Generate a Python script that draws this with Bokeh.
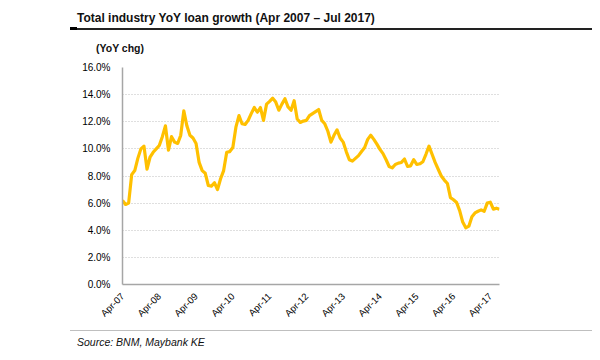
from math import pi
from bokeh.plotting import figure
from bokeh.models import Range1d, FixedTicker, PrintfTickFormatter, ColumnDataSource, Div
from bokeh.layouts import column
from bokeh.embed import file_html
from bokeh.resources import INLINE

# Monthly YoY loan growth (%), Apr 2007 .. Jul 2017 (124 months)
growth = [
    6.2, 5.9, 6.0, 8.1, 8.4, 9.3, 10.0, 10.2, 8.5, 9.4, 9.75, 10.0,      # Apr07-Mar08
    10.25, 10.9, 11.7, 9.9, 10.9, 10.5, 10.4, 11.0, 12.8, 11.7, 11.0, 10.8,  # Apr08-Mar09
    10.4, 9.0, 8.4, 8.2, 7.3, 7.25, 7.5, 7.0, 7.8, 8.4, 9.75, 9.8,        # Apr09-Mar10
    10.1, 11.6, 12.45, 11.85, 11.8, 12.1, 12.6, 13.05, 12.7, 13.05, 12.1, 13.3,  # Apr10-Mar11
    13.5, 13.74, 13.45, 12.85, 13.3, 13.7, 13.1, 12.85, 13.55, 12.2, 11.95, 12.05,  # Apr11-Mar12
    12.1, 12.45, 12.6, 12.75, 12.9, 12.1, 11.85, 11.3, 10.5, 11.0, 11.4, 10.8,  # Apr12-Mar13
    10.5, 9.8, 9.2, 9.1, 9.3, 9.5, 9.8, 10.1, 10.7, 11.0, 10.7, 10.35,     # Apr13-Mar14
    9.96, 9.65, 9.2, 8.7, 8.6, 8.85, 8.95, 9.0, 9.25, 8.7, 8.75, 9.2,      # Apr14-Mar15
    8.85, 8.9, 9.05, 9.6, 10.2, 9.6, 9.0, 8.5, 8.0, 7.7, 7.45, 6.4,        # Apr15-Mar16
    6.25, 6.05, 5.45, 4.6, 4.18, 4.3, 5.0, 5.28, 5.4, 5.5, 5.4, 6.0,       # Apr16-Mar17
    6.07, 5.55, 5.63, 5.55,                                                # Apr17-Jul17
]
tick_labels = ["Apr-07", "Apr-08", "Apr-09", "Apr-10", "Apr-11", "Apr-12",
               "Apr-13", "Apr-14", "Apr-15", "Apr-16", "Apr-17"]
y_ticks = [0, 2, 4, 6, 8, 10, 12, 14, 16]
title_text = "Total industry YoY loan growth (Apr 2007 \u2013 Jul 2017)"
unit_text = "(YoY chg)"
source_text = "Source: BNM, Maybank KE"

months = list(range(len(growth)))
src = ColumnDataSource(dict(x=months, y=growth))

FONT = "'Liberation Sans', Arial, sans-serif"

head = Div(width=592, height=58, margin=0, text=f"""
<div style="position:relative;width:592px;height:58px;font-family:{FONT};color:#111;">
  <div style="position:absolute;left:77px;top:10px;font-size:12px;font-weight:bold;white-space:nowrap;">{title_text}</div>
  <div style="position:absolute;left:70px;top:28px;width:522px;height:1.5px;background:#222;"></div>
  <div style="position:absolute;left:70px;top:27px;width:7px;height:3px;background:#000;"></div>
  <div style="position:absolute;left:96px;top:41px;font-size:10.5px;font-weight:bold;white-space:nowrap;">{unit_text}</div>
</div>""")

p = figure(width=592, height=267, output_backend="svg", toolbar_location=None,
           x_range=Range1d(0, len(growth) - 1), y_range=Range1d(0, 16),
           min_border_left=122, min_border_right=93, min_border_top=9, min_border_bottom=40)
p.outline_line_color = None
p.background_fill_color = "white"
p.border_fill_color = "white"

p.line("x", "y", source=src, line_color="#FFC000", line_width=3.2, line_join="round")

xt = [12 * i for i in range(len(tick_labels))]
p.xaxis.ticker = FixedTicker(ticks=xt)
p.xaxis.major_label_overrides = {t: lab for t, lab in zip(xt, tick_labels)}
p.xaxis.major_label_orientation = pi / 4
p.yaxis.ticker = FixedTicker(ticks=y_ticks)
p.yaxis.formatter = PrintfTickFormatter(format="%.1f%%")

for ax in (p.xaxis, p.yaxis):
    ax.axis_line_color = "#A6A6A6"
    ax.axis_line_width = 1.5
    ax.major_tick_line_color = None
    ax.minor_tick_line_color = None
    ax.major_label_text_font = "Liberation Sans"
    ax.major_label_text_font_size = "10px"
    ax.major_label_text_color = "#000000"
p.yaxis.major_label_standoff = 6
p.xaxis.major_label_standoff = 4
p.xaxis.major_label_text_font_size = "9.5px"

p.xgrid.grid_line_color = None
p.ygrid.grid_line_color = "#BFBFBF"
p.ygrid.grid_line_dash = "1 2"
p.ygrid.grid_line_width = 1

foot = Div(width=592, height=27, margin=0, text=f"""
<div style="position:relative;width:592px;height:27px;font-family:{FONT};color:#111;">
  <div style="position:absolute;left:70px;top:5px;width:522px;height:1px;background:#BFBFBF;"></div>
  <div style="position:absolute;left:77px;top:10px;font-size:10.5px;font-style:italic;white-space:nowrap;">{source_text}</div>
</div>""")

layout = column(head, p, foot, spacing=0)
open("out.html", "w").write(file_html(layout, INLINE))
